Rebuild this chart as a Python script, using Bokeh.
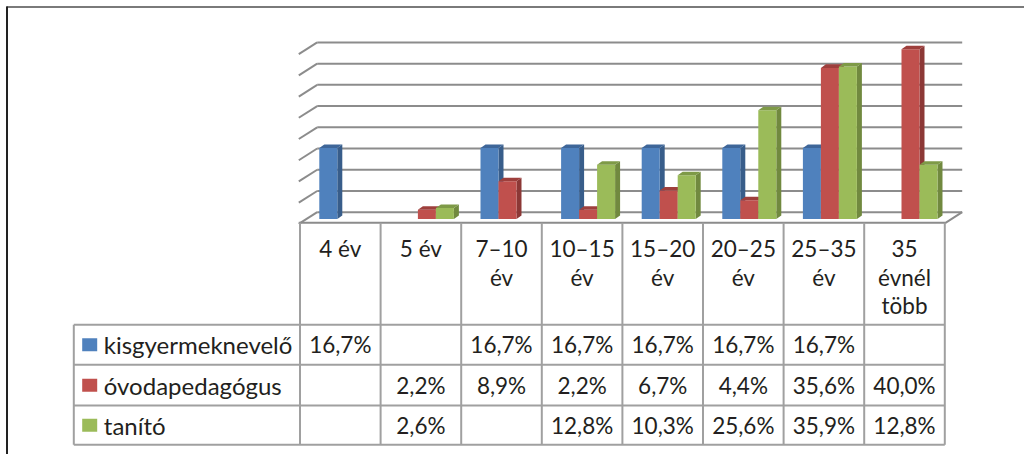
from bokeh.plotting import figure
from bokeh.models import Range1d
from bokeh.embed import file_html
from bokeh.resources import INLINE
from bokeh.core.properties import value

# ---------------- data ----------------
categories = ["4 év", "5 év", "7–10\név", "10–15\név", "15–20\név",
              "20–25\név", "25–35\név", "35\névnél\ntöbb"]
series_names = ["kisgyermeknevelő", "óvodapedagógus", "tanító"]
kisgyermeknevelo = [16.7, None, 16.7, 16.7, 16.7, 16.7, 16.7, None]
ovodapedagogus = [None, 2.2, 8.9, 2.2, 6.7, 4.4, 35.6, 40.0]
tanito = [None, 2.6, None, 12.8, 10.3, 25.6, 35.9, 12.8]
series_values = [kisgyermeknevelo, ovodapedagogus, tanito]
grid_ticks = [0, 5, 10, 15, 20, 25, 30, 35, 40]

# ---------------- style ----------------
front_colors = ["#4F81BD", "#C0504D", "#9BBB59"]
side_colors = ["#385D8A", "#8C3836", "#71893F"]
top_colors = ["#3E6699", "#9E3F3C", "#7E9A47"]
FONT = "Lato"
FS = "22.5px"
FS_NAMES = "24px"
TXT = "#231F20"
GRID = "#8C8C8C"
TABLE = "#A0A0A0"

W, H = 1024, 454
OFF = 0
X0, PXC = 339.8, 80.6      # screen x of category 0 center, px per category
Y0, PXP = 218.5, 4.245     # screen y of 0 %, px per percent


def ux(px):
    return (px - X0) / PXC


def uy(py):
    return (Y0 - py) / PXP


p = figure(width=W, height=H, output_backend="svg", toolbar_location=None,
           x_range=Range1d(ux(OFF), ux(OFF + W)), y_range=Range1d(uy(OFF + H), uy(OFF)),
           min_border=0, outline_line_color=None,
           x_axis_location=None, y_axis_location=None)
p.grid.visible = False
p.background_fill_color = "white"
p.border_fill_color = "white"

# frame lines
p.segment(x0=[ux(6)], y0=[uy(6.5)], x1=[ux(OFF + W)], y1=[uy(6.5)], line_color="#7A7A7A", line_width=2)
p.segment(x0=[ux(6.5)], y0=[uy(6)], x1=[ux(6.5)], y1=[uy(OFF + H)], line_color="#222222", line_width=2)

# back wall gridlines + left wall diagonals
wall_dy = uy(211.7)
back_l, back_r, front_l = ux(316.7), ux(961.7), ux(298.3)
diag_dy = 11.7 / PXP
gx0, gy0, gx1, gy1 = [], [], [], []
for t in grid_ticks:
    gx0 += [back_l, front_l]
    gy0 += [t + wall_dy, t + wall_dy - diag_dy]
    gx1 += [back_r, back_l]
    gy1 += [t + wall_dy, t + wall_dy]
p.segment(x0=gx0, y0=gy0, x1=gx1, y1=gy1, line_color=GRID, line_width=2)

# floor front edge
floor_y = uy(222.3)
p.line(x=[front_l, ux(945), back_r], y=[floor_y, floor_y, wall_dy], line_color=GRID, line_width=2)

# bars (3D look)
shift, bw = 0.0744, 0.2233
ddx, ddy = 0.062, 0.83
for s, vals in enumerate(series_values):
    fl, fr, fb, ft = [], [], [], []
    sxs, sys_, txs, tys = [], [], [], []
    for i, v in enumerate(vals):
        if v is None:
            continue
        c = i + shift + (s - 1) * bw
        l, r = c - bw / 2, c + bw / 2
        fl.append(l); fr.append(r); fb.append(0); ft.append(v)
        sxs.append([r, r + ddx, r + ddx, r]); sys_.append([0, ddy, v + ddy, v])
        txs.append([l, r, r + ddx, l + ddx]); tys.append([v, v, v + ddy, v + ddy])
    p.patches(xs=sxs, ys=sys_, fill_color=side_colors[s], line_color=None)
    p.quad(left=fl, right=fr, bottom=fb, top=ft, fill_color=front_colors[s], line_color=None)
    p.patches(xs=txs, ys=tys, fill_color=top_colors[s], line_color=None)

# table lines
row_lines = [uy(324.3), uy(364.3), uy(405.0), uy(444.3)]
tab_left = ux(73.3)
n = len(categories)
p.segment(x0=[tab_left] * 4, y0=row_lines, x1=[n - 0.5] * 4, y1=row_lines,
          line_color=TABLE, line_width=2)
vx = [i - 0.5 for i in range(n + 1)]
p.segment(x0=vx, y0=[floor_y] * len(vx), x1=vx, y1=[row_lines[-1]] * len(vx),
          line_color=TABLE, line_width=2)
p.segment(x0=[tab_left], y0=[row_lines[0]], x1=[tab_left], y1=[row_lines[-1]],
          line_color=TABLE, line_width=2)

# header texts
hx, hy, ht = [], [], []
line_gap = 28.5 / PXP
for i, cat in enumerate(categories):
    for j, part in enumerate(cat.split("\n")):
        hx.append(i)
        hy.append(uy(248.3) - j * line_gap)
        ht.append(part)
p.text(x=hx, y=hy, text=ht, text_align="center", text_baseline="middle",
       text_font=value(FONT), text_font_size=FS, text_color=TXT)

# rows: legend squares, names, values
row_centers = [(row_lines[k] + row_lines[k + 1]) / 2 for k in range(3)]
sq_h = 6.5 / PXP
p.quad(left=[ux(81.7)] * 3, right=[ux(96.7)] * 3,
       bottom=[c - sq_h for c in row_centers], top=[c + sq_h for c in row_centers],
       fill_color=front_colors, line_color=None)
p.text(x=[ux(103.3)] * 3, y=row_centers, text=series_names, text_align="left",
       text_baseline="middle", text_font=value(FONT), text_font_size=FS_NAMES, text_color=TXT)
vx_, vy_, vt_ = [], [], []
for s, vals in enumerate(series_values):
    for i, v in enumerate(vals):
        if v is None:
            continue
        vx_.append(i)
        vy_.append(row_centers[s])
        vt_.append(f"{v:.1f}".replace(".", ",") + "%")
p.text(x=vx_, y=vy_, text=vt_, text_align="center", text_baseline="middle",
       text_font=value(FONT), text_font_size=FS, text_color=TXT)

open("out.html", "w").write(file_html(p, INLINE))
